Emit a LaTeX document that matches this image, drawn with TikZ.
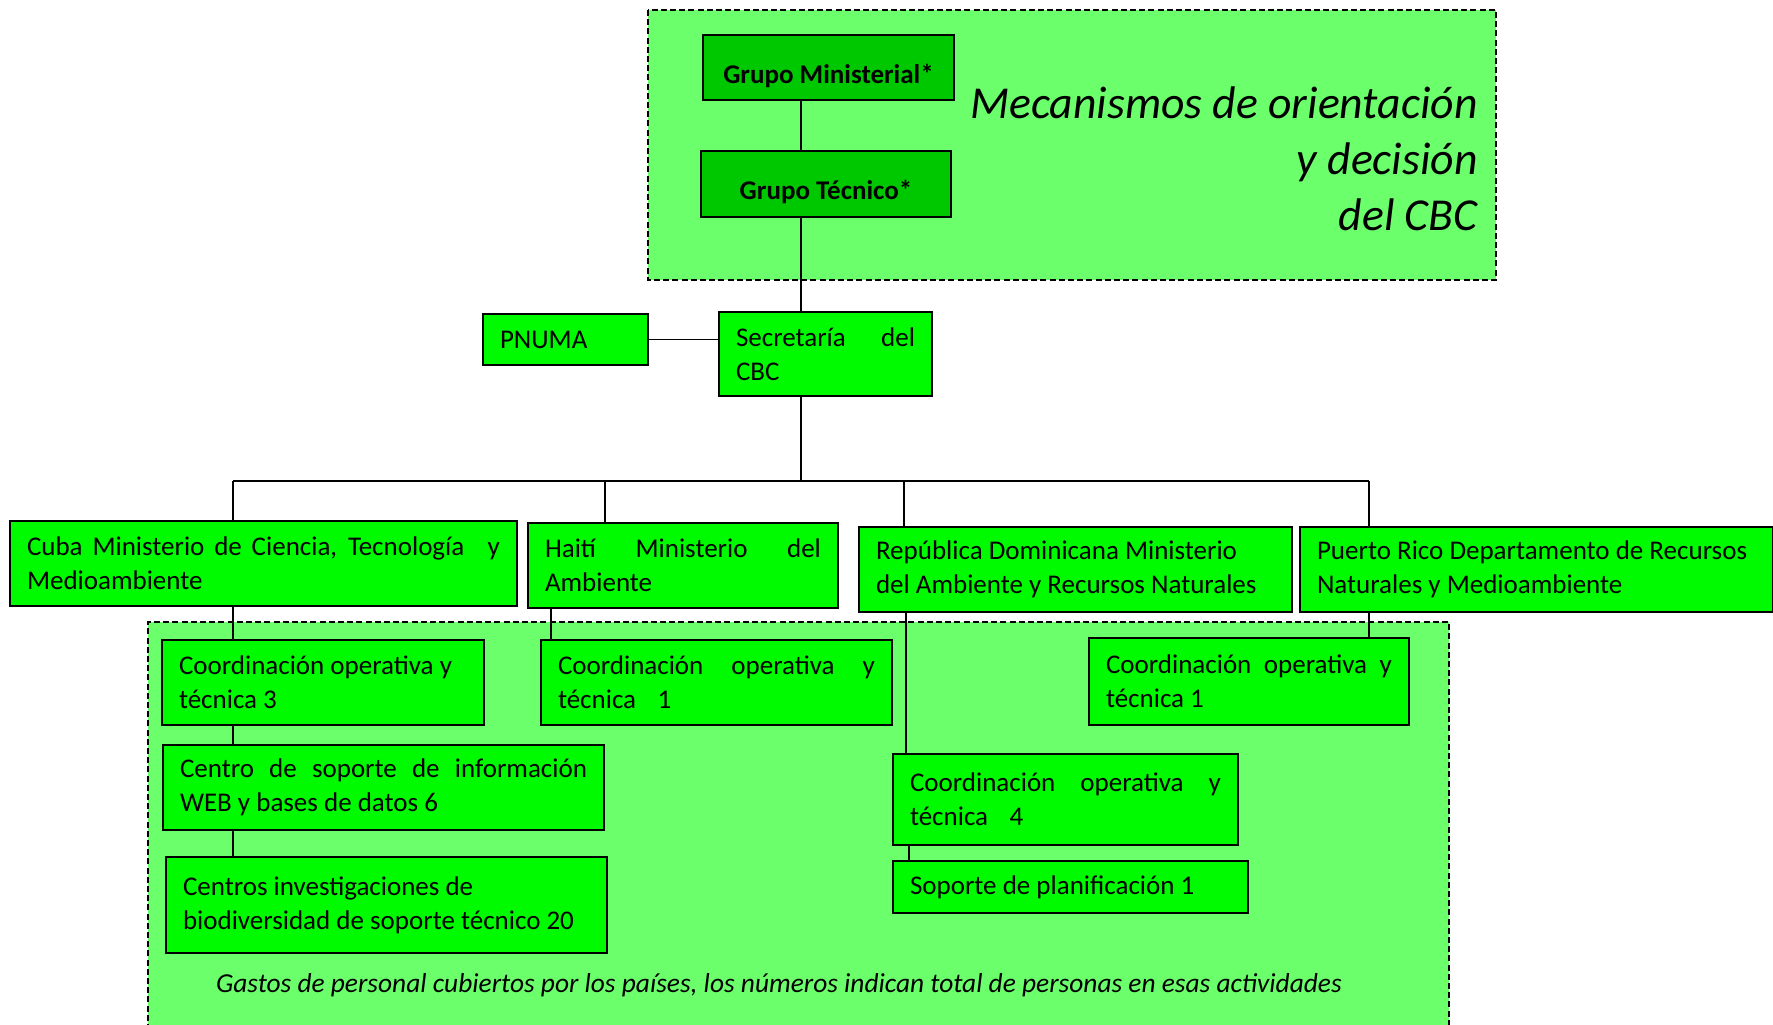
\documentclass[tikz,border=0pt]{standalone}
\usepackage{fontspec}
\setmainfont{Carlito}
\definecolor{boxgreen}{RGB}{0,250,0}
\definecolor{darkgreen}{RGB}{0,200,0}
\definecolor{zonegreen}{RGB}{108,255,108}
\begin{document}
\begin{tikzpicture}[x=0.5pt,y=-0.5pt,
  box/.style={draw=black, line width=1pt, fill=boxgreen, anchor=north west,
    inner xsep=8.5pt, inner ysep=0pt, font=\fontsize{13.5}{17}\selectfont, align=justify},
  topbox/.style={draw=black, line width=1pt, fill=darkgreen, anchor=north west,
    inner sep=0pt, font=\fontsize{13.5}{17}\selectfont\bfseries, align=center,
    text height=15.7pt, text depth=0pt},
  conn/.style={draw=black, line width=0.8pt},
  zone/.style={draw=black, line width=0.8pt, dash pattern=on 3pt off 1.6pt}]
\useasboundingbox (0,0) rectangle (1773,1024);
% dashed zones
\fill[zonegreen] (648,10) rectangle (1496,280);
\draw[zone] (648,10) rectangle (1496,280);
\fill[zonegreen] (148,622) rectangle (1449,1030);
\draw[zone] (148,1030) -- (148,622) -- (1449,622) -- (1449,1030);
% title texts
\node[anchor=north east, align=right, inner sep=0pt,
  font=\fontsize{22.85}{28}\selectfont\itshape] (title) at (1478,86)
  {Mecanismos de orientación\\y decisión\\del CBC};
\node[anchor=base, inner sep=0pt, font=\fontsize{13.7}{16}\selectfont\itshape] (foot) at (779,992)
  {Gastos de personal cubiertos por los países, los números indican total de personas en esas actividades};
% boxes
\node[topbox, minimum width=125.5pt, minimum height=32.5pt] (gm) at (702,34) {Grupo Ministerial*};
\node[topbox, minimum width=125pt, minimum height=33pt] (gt) at (700,150) {Grupo Técnico*};
\node[box, text width=65.5pt, minimum height=25.5pt] (pnuma) at (482,313) {PNUMA};
\node[box, text width=89.5pt, minimum height=42pt] (sec) at (718,311) {Secretaría\hfill del\\CBC};
\node[box, text width=236.5pt, minimum height=42.5pt] (cuba) at (9,520)
  {Cuba Ministerio de Ciencia, Tecnología\hspace{0.5em} y\linebreak Medioambiente};
\node[box, text width=138pt, minimum height=42.5pt] (haiti) at (527,522)
  {Haití Ministerio del\linebreak Ambiente};
\node[box, text width=199.5pt, minimum height=42.5pt] (rd) at (858,526)
  {República Dominicana Ministerio\\del Ambiente y Recursos Naturales};
\node[box, text width=219.5pt, minimum height=42.5pt] (pr) at (1299,526)
  {Puerto Rico Departamento de Recursos\\Naturales y Medioambiente};
\node[box, text width=144pt, minimum height=42.5pt] (c3) at (161,639)
  {Coordinación operativa y\\técnica 3};
\node[box, text width=203.5pt, minimum height=42.5pt] (cs) at (162,744)
  {Centro de soporte de información\linebreak WEB y bases de datos 6};
\node[box, text width=203.5pt, minimum height=48pt] (ci) at (165,856)
  {Centros investigaciones de\\biodiversidad de soporte técnico 20};
\node[box, text width=158.5pt, minimum height=42.5pt] (c1h) at (540,639)
  {Coordinación operativa y\linebreak técnica\hspace{0.8em}1};
\node[box, text width=155.5pt, minimum height=45.5pt] (c4) at (892,753)
  {Coordinación operativa y\linebreak técnica\hspace{0.8em}4};
\node[box, text width=160.5pt, minimum height=26pt] (sp) at (892,860)
  {Soporte de planificación 1};
\node[box, text width=143pt, minimum height=43.5pt] (c1p) at (1088,637)
  {Coordinación operativa y\linebreak técnica 1};
% connector x positions
\coordinate (xs) at (801,0);
\coordinate (bus) at (0,481);
\coordinate (xcuba) at (233,0);
\coordinate (xhaiti) at (605,0);
\coordinate (xhaiti2) at (551,0);
\coordinate (xrd) at (904,0);
\coordinate (xrd2) at (906,0);
\coordinate (xrd3) at (909,0);
\coordinate (xpr) at (1369,0);
% connectors
\draw[conn] (gm.south -| xs) -- (gt.north -| xs);
\draw[conn] (gt.south -| xs) -- (sec.north -| xs);
\draw[conn] (pnuma.east) -- (pnuma.east -| sec.west);
\draw[conn] (sec.south -| xs) -- (bus -| xs);
\draw[conn] (bus -| xcuba) -- (bus -| xpr);
\draw[conn] (bus -| xcuba) -- (cuba.north -| xcuba);
\draw[conn] (bus -| xhaiti) -- (haiti.north -| xhaiti);
\draw[conn] (bus -| xrd) -- (rd.north -| xrd);
\draw[conn] (bus -| xpr) -- (pr.north -| xpr);
\draw[conn] (cuba.south -| xcuba) -- (c3.north -| xcuba);
\draw[conn] (c3.south -| xcuba) -- (cs.north -| xcuba);
\draw[conn] (cs.south -| xcuba) -- (ci.north -| xcuba);
\draw[conn] (haiti.south -| xhaiti2) -- (c1h.north -| xhaiti2);
\draw[conn] (rd.south -| xrd2) -- (c4.north -| xrd2);
\draw[conn] (c4.south -| xrd3) -- (sp.north -| xrd3);
\draw[conn] (pr.south -| xpr) -- (c1p.north -| xpr);
\end{tikzpicture}
\end{document}
